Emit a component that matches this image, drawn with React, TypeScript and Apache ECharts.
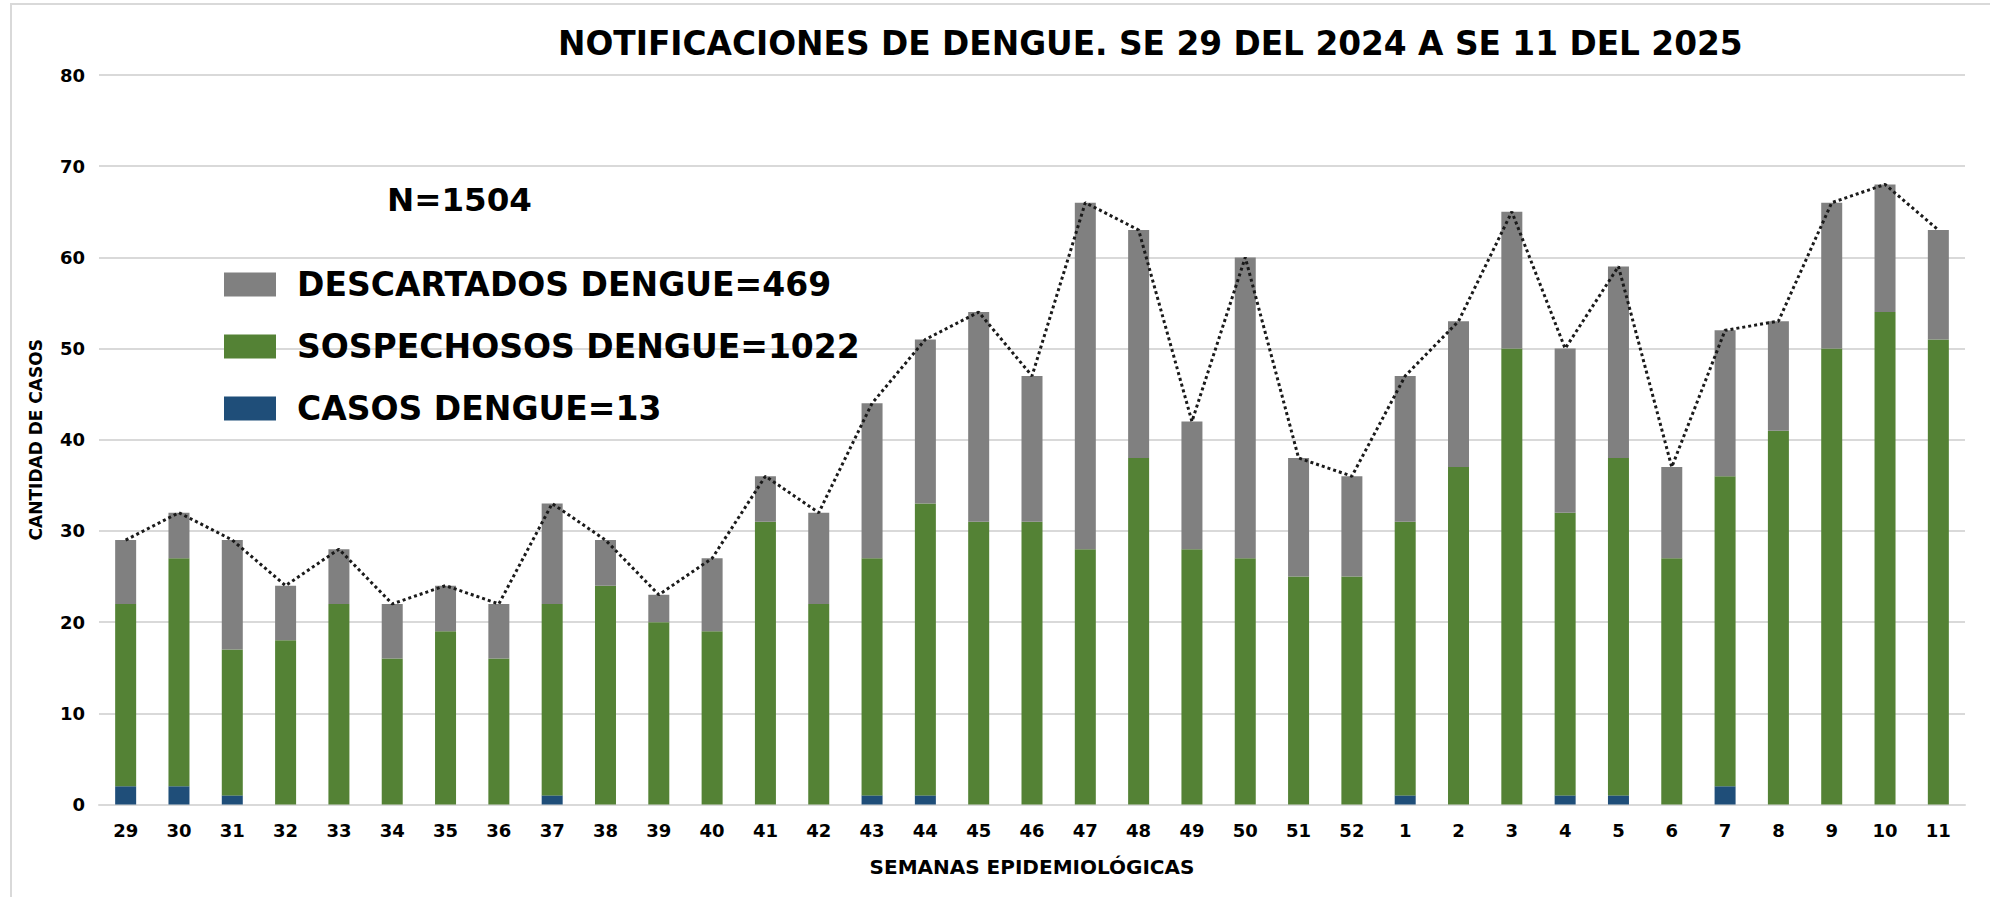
import React, { useEffect, useRef } from "react";
import * as echarts from "echarts";

const semanas = ["29","30","31","32","33","34","35","36","37","38","39","40","41","42","43","44","45","46","47","48","49","50","51","52","1","2","3","4","5","6","7","8","9","10","11"];
const casosDengue = [2,2,1,0,0,0,0,0,1,0,0,0,0,0,1,1,0,0,0,0,0,0,0,0,1,0,0,1,1,0,2,0,0,0,0];
const sospechososDengue = [20,25,16,18,22,16,19,16,21,24,20,19,31,22,26,32,31,31,28,38,28,27,25,25,30,37,50,31,37,27,34,41,50,54,51];
const descartadosDengue = [7,5,12,6,6,6,5,6,11,5,3,8,5,10,17,18,23,16,38,25,14,33,13,11,16,16,15,18,21,10,16,12,16,14,12];
const totales = [29,32,29,24,28,22,24,22,33,29,23,27,36,32,44,51,54,47,66,63,42,60,38,36,47,53,65,50,59,37,52,53,66,68,63];
const yTicks = { min: 0, max: 80, interval: 10 };

const FONT = "DejaVu Sans";

export default function App() {
  const ref = useRef<HTMLDivElement>(null);
  useEffect(() => {
    if (!ref.current) return;
    const chart = echarts.init(ref.current, null, { renderer: "svg" });
    chart.setOption({
      animation: false,
      backgroundColor: "#ffffff",
      textStyle: { fontFamily: FONT },
      title: {
        text: "NOTIFICACIONES DE DENGUE. SE 29 DEL 2024 A SE 11 DEL 2025",
        left: 558,
        top: 27,
        padding: 0,
        textStyle: { fontFamily: FONT, fontSize: 32.8, fontWeight: "bold", color: "#000" },
      },
      legend: {
        orient: "vertical",
        left: 224,
        top: 268,
        padding: 0,
        itemWidth: 52,
        itemHeight: 24,
        itemGap: 29,
        icon: "rect",
        data: ["DESCARTADOS DENGUE=469", "SOSPECHOSOS DENGUE=1022", "CASOS DENGUE=13"],
        textStyle: { fontFamily: FONT, fontSize: 33, fontWeight: "bold", color: "#000", padding: [0, 0, 0, 16] },
      },
      graphic: [
        {
          type: "rect",
          silent: true,
          shape: { x: 11, y: 4, width: 2100, height: 1000 },
          style: { fill: "none", stroke: "#d9d9d9", lineWidth: 2 },
        },
        {
          type: "text",
          left: 387,
          top: 183,
          style: { text: "N=1504", fontFamily: FONT, fontSize: 32.5, fontWeight: "bold", fill: "#000" },
        },
      ],
      grid: { left: 99, right: 25, top: 75, bottom: 92.5, containLabel: false },
      xAxis: {
        type: "category",
        data: semanas,
        name: "SEMANAS EPIDEMIOLÓGICAS",
        nameLocation: "middle",
        nameGap: 52,
        nameTextStyle: { fontFamily: FONT, fontSize: 20, fontWeight: "bold", color: "#000" },
        axisTick: { show: false },
        axisLine: { lineStyle: { color: "#d9d9d9", width: 2 } },
        axisLabel: { fontFamily: FONT, fontSize: 18, fontWeight: "bold", color: "#000", margin: 17, interval: 0 },
      },
      yAxis: {
        type: "value",
        min: yTicks.min,
        max: yTicks.max,
        interval: yTicks.interval,
        name: "CANTIDAD DE CASOS",
        nameLocation: "middle",
        nameGap: 55,
        nameTextStyle: { fontFamily: FONT, fontSize: 17, fontWeight: "bold", color: "#000" },
        axisLine: { show: false },
        axisTick: { show: false },
        axisLabel: { fontFamily: FONT, fontSize: 18, fontWeight: "bold", color: "#000", margin: 14 },
        splitLine: { lineStyle: { color: "#d9d9d9", width: 2 } },
      },
      series: [
        {
          name: "CASOS DENGUE=13",
          type: "bar",
          stack: "total",
          barWidth: 21,
          data: casosDengue,
          itemStyle: { color: "#1f4e79" },
        },
        {
          name: "SOSPECHOSOS DENGUE=1022",
          type: "bar",
          stack: "total",
          barWidth: 21,
          data: sospechososDengue,
          itemStyle: { color: "#548235" },
        },
        {
          name: "DESCARTADOS DENGUE=469",
          type: "bar",
          stack: "total",
          barWidth: 21,
          data: descartadosDengue,
          itemStyle: { color: "#808080" },
        },
        {
          name: "Total",
          type: "line",
          data: totales,
          symbol: "none",
          z: 5,
          lineStyle: { color: "#1a1a1a", width: 3, type: [3, 3] },
        },
      ],
    });
    return () => chart.dispose();
  }, []);
  return (
    <div
      ref={ref}
      style={{ position: "fixed", left: 0, top: 0, width: 1990, height: 897 }}
    />
  );
}
